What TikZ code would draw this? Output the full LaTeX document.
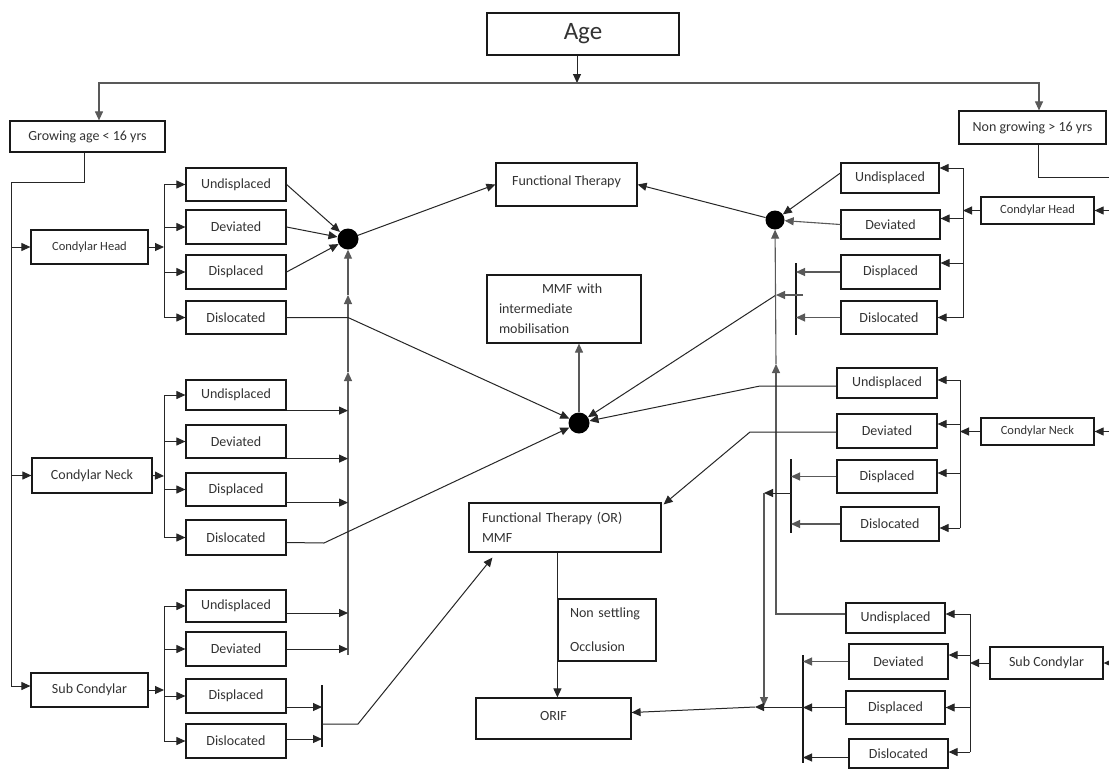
\documentclass[tikz,border=0pt]{standalone}
\usepackage{fontspec}
\setmainfont{Carlito}
\usetikzlibrary{arrows.meta,calc}
\begin{document}
\begin{tikzpicture}[x=1pt,y=-1pt,
  bx/.style={draw=black!90, line width=1.2pt, inner sep=0pt, text=black!80, font=\fontsize{14}{17}\selectfont},
  sm/.style={font=\fontsize{12.5}{15}\selectfont},
  ln/.style={draw=black!85, line width=1pt},
  gl/.style={draw=black!65, line width=1.1pt},
  ar/.style={ln, -{Triangle[length=9pt,width=8pt]}},
  gar/.style={gl, -{Triangle[length=9pt,width=8pt]}},
  bar/.style={draw=black!90, line width=1.5pt},
  dot/.style={circle, fill=black, inner sep=0pt, minimum size=21pt},
]
\path[fill=white,use as bounding box] (0,0) rectangle (1109,769);

% ---------- boxes ----------
\node[bx,minimum width=192pt,minimum height=42pt,font=\fontsize{25}{30}\selectfont] (age) at (583,34) {Age};
\node[bx,minimum width=155pt,minimum height=31pt] (grow) at (87.5,136.5) {Growing age < 16 yrs};
\node[bx,minimum width=147pt,minimum height=33pt] (nongrow) at (1032.5,127.5) {Non growing > 16 yrs};

\node[bx,sm,minimum width=117pt,minimum height=34pt] (lhead) at (89.5,247) {Condylar Head};
\node[bx,minimum width=120pt,minimum height=35pt] (lneck) at (92,475.5) {Condylar Neck};
\node[bx,minimum width=117pt,minimum height=34pt] (lsub) at (89.5,690) {Sub Condylar};

\node[bx,minimum width=100pt,minimum height=33pt] (lhU) at (236,184.5) {Undisplaced};
\node[bx,minimum width=100pt,minimum height=34pt] (lhDv) at (236,227) {Deviated};
\node[bx,minimum width=100pt,minimum height=34pt] (lhDp) at (236,272) {Displaced};
\node[bx,minimum width=100pt,minimum height=33pt] (lhDl) at (236,317.5) {Dislocated};
\node[bx,minimum width=100pt,minimum height=30pt] (lnU) at (236,395) {Undisplaced};
\node[bx,minimum width=100pt,minimum height=33pt] (lnDv) at (236,441.5) {Deviated};
\node[bx,minimum width=100pt,minimum height=33pt] (lnDp) at (236,489.5) {Displaced};
\node[bx,minimum width=100pt,minimum height=35pt] (lnDl) at (236,537.5) {Dislocated};
\node[bx,minimum width=100pt,minimum height=32pt] (lsU) at (236,606) {Undisplaced};
\node[bx,minimum width=100pt,minimum height=34pt] (lsDv) at (236,649) {Deviated};
\node[bx,minimum width=100pt,minimum height=34pt] (lsDp) at (236,696) {Displaced};
\node[bx,minimum width=100pt,minimum height=34pt] (lsDl) at (236,741) {Dislocated};

\node[bx,minimum width=141pt,minimum height=43pt,text depth=8pt] (ft) at (566.5,184.5) {Functional Therapy};
\node[bx,align=left,text width=130pt,inner xsep=12pt,minimum height=68pt,font=\fontsize{14}{20}\selectfont] (mmf) at (564,309) {\hspace*{43pt}MMF with\\intermediate\\mobilisation};
\node[bx,align=left,text width=166pt,inner xsep=13pt,minimum height=49pt,font=\fontsize{14}{20}\selectfont] (ftor) at (565,527.5) {Functional Therapy (OR)\\MMF};
\node[bx,align=left,text width=74pt,inner xsep=12pt,minimum height=62pt] (ns) at (607,630) {Non settling\\[17pt]Occlusion};
\node[bx,minimum width=155pt,minimum height=41pt,text depth=6pt] (orif) at (553.5,718.5) {ORIF};

\node[dot] (dotL) at (348,239) {};
\node[dot] (dotC) at (579,423) {};
\node[dot,minimum size=19pt] (dotR) at (775,220) {};

\node[bx,sm,minimum width=113pt,minimum height=27pt] (rhead) at (1037.5,210.5) {Condylar Head};
\node[bx,sm,minimum width=113pt,minimum height=27pt] (rneck) at (1037.5,431.5) {Condylar Neck};
\node[bx,minimum width=113pt,minimum height=32pt] (rsub) at (1046.5,663) {Sub Condylar};

\node[bx,minimum width=98pt,minimum height=30pt] (rhU) at (890,178) {Undisplaced};
\node[bx,minimum width=99pt,minimum height=29pt] (rhDv) at (890.5,224.5) {Deviated};
\node[bx,minimum width=99pt,minimum height=34pt] (rhDp) at (890.5,272) {Displaced};
\node[bx,minimum width=96pt,minimum height=33pt] (rhDl) at (889,317.5) {Dislocated};
\node[bx,minimum width=100pt,minimum height=30pt] (rnU) at (887,383) {Undisplaced};
\node[bx,minimum width=100pt,minimum height=34pt] (rnDv) at (887,431) {Deviated};
\node[bx,minimum width=100pt,minimum height=33pt] (rnDp) at (887,476.5) {Displaced};
\node[bx,minimum width=98pt,minimum height=34pt] (rnDl) at (890,524) {Dislocated};
\node[bx,minimum width=99pt,minimum height=30pt] (rsU) at (895.5,618) {Undisplaced};
\node[bx,minimum width=99pt,minimum height=35pt] (rsDv) at (898.5,661.5) {Deviated};
\node[bx,minimum width=99pt,minimum height=33pt] (rsDp) at (895.5,707.5) {Displaced};
\node[bx,minimum width=99pt,minimum height=29pt] (rsDl) at (898.5,753.5) {Dislocated};

% ---------- top ----------
\coordinate (topJ) at (577,83);
\coordinate (topL) at (99,83);
\coordinate (topR) at (1039,83);
\draw[ar] (age.south -| topJ) -- (topJ);
\draw[gar] (topJ) -- (topL) -- (topL |- grow.north);
\draw[gar] (topJ) -- (topR) -- (topR |- nongrow.north);

% ---------- left trunk ----------
\coordinate (gA) at (84,182);
\coordinate (gB) at (11,182);
\coordinate (gC) at (11,686);
\draw[ln] (grow.south -| gA) -- (gA) -- (gB) -- (gC);
\draw[ar] (gB |- lhead.west) -- (lhead.west);
\draw[ar] (gB |- lneck.west) -- (lneck.west);
\draw[ar] (gC) -- (gC -| lsub.west);

\coordinate (lhV) at (164,247);
\draw[ar] (lhead.east) -- (lhV);
\draw[ln] (lhV |- lhU.west) -- (lhV |- lhDl.west);
\foreach \bb in {lhU,lhDv,lhDp,lhDl} \draw[ar] (lhV |- \bb.west) -- (\bb.west);
\coordinate (lnV) at (164,476);
\draw[ar] (lneck.east) -- (lnV);
\draw[ln] (lnV |- lnU.west) -- (lnV |- lnDl.west);
\foreach \bb in {lnU,lnDv,lnDp,lnDl} \draw[ar] (lnV |- \bb.west) -- (\bb.west);
\coordinate (lsV) at (164,690);
\draw[ar] (lsub.east) -- (lsV);
\draw[ln] (lsV |- lsU.west) -- (lsV |- lsDl.west);
\foreach \bb in {lsU,lsDv,lsDp,lsDl} \draw[ar] (lsV |- \bb.west) -- (\bb.west);

% left dot
\draw[ar] (lhU.east) -- (dotL);
\draw[ar] (lhDv.east) -- (dotL);
\draw[ar] (lhDp.east) -- (dotL);

\coordinate (lvB) at (348,655);
\coordinate (lv1) at (348,372);
\coordinate (lv2) at (348,295);
\draw[gar] (lvB) -- (lv1);
\draw[gar] (lv1) -- (lv2);
\draw[gar] (lv2) -- (dotL);
\draw[ar] (lnU.south east) -- (lnU.south east -| lvB);
\draw[ar] (lnDv.south east) -- (lnDv.south east -| lvB);
\coordinate (lnDpE) at ([yshift=4pt]lnDp.south east);
\draw[ar] (lnDpE) -- (lnDpE -| lvB);
\coordinate (lsUE) at ([yshift=-7pt]lsU.east);
\draw[ar] (lsUE) -- (lsUE -| lvB);
\draw[ar] (lsDv.east) -- (lsDv.east -| lvB);

\draw[ar] (lhDl.east) -- (lhDl.east -| lvB) -- (dotC);
\coordinate (lnDlE) at ([yshift=-5pt]lnDl.east);
\coordinate (ndK) at (324,543);
\draw[ar] (lnDlE) -- (ndK) -- (dotC);

\coordinate (sbT) at (322,685);
\coordinate (sbB) at (322,747);
\draw[bar] (sbT) -- (sbB);
\coordinate (lsDpE) at ([yshift=-11pt]lsDp.east);
\draw[ar] (lsDpE) -- (lsDpE -| sbT);
\coordinate (lsDlE) at ([yshift=2pt]lsDl.east);
\draw[ar] (lsDlE) -- (lsDlE -| sbT);
\coordinate (sbO) at (322,724);
\coordinate (sbK) at (358,724);
\coordinate (ftorIn) at ($(ftor.south west)+(24,5)$);
\draw[ar] (sbO) -- (sbK) -- (ftorIn);

% ---------- centre ----------
\draw[ar] (dotL) -- (ft.west);
\draw[ar] (dotR) -- (ft.east);
\draw[gar] (dotC) -- (dotC |- mmf.south);
\draw[ar] (ftor.south -| ns.west) -- (orif.north -| ns.west);

% ---------- right ----------
\coordinate (ngA) at (1038,177);
\coordinate (ngB) at (1109,177);
\draw[ln] (nongrow.south -| ngA) -- (ngA) -- (ngB);
\coordinate (rIn1) at (1109,210.5);
\draw[ar] (rIn1) -- (rhead.east);
\coordinate (rIn2) at (1109,431.5);
\draw[ar] (rIn2) -- (rneck.east);
\coordinate (rIn3) at (1109,663);
\draw[ar] (rIn3) -- (rsub.east);

\coordinate (rhV) at (963,210.5);
\draw[ar] (rhead.west) -- (rhV);
\coordinate (rhUE) at ([yshift=10pt]rhU.east);
\coordinate (rhDvE) at ([yshift=6pt]rhDv.east);
\coordinate (rhDpE) at ([yshift=9pt]rhDp.east);
\coordinate (rhDlE) at (rhDl.east);
\draw[ln] (rhV |- rhUE) -- (rhV |- rhDlE);
\foreach \bb in {rhUE,rhDvE,rhDpE,rhDlE} \draw[ar] (rhV |- \bb) -- (\bb);

\coordinate (rhUW) at ([yshift=5pt]rhU.west);
\draw[ar] (rhUW) -- (dotR);
\draw[gar] (rhDv.west) -- (dotR);

\coordinate (rbT) at (796,263);
\coordinate (rbB) at (796,335);
\draw[bar] (rbT) -- (rbB);
\draw[gar] (rhDp.west) -- (rhDp.west -| rbT);
\draw[gar] (rhDl.west) -- (rhDl.west -| rbT);
\coordinate (rbO) at (803,295);
\coordinate (rbK) at (776,295);
\draw[gar] (rbO) -- (rbK);
\draw[ar] (rbK) -- (dotC);

\coordinate (rsUW) at ([yshift=4pt]rsU.west);
\coordinate (rvB) at (776,614);
\coordinate (rv1) at (776,364);
\draw[gar] (rsUW) -- (rvB) -- (rv1);
\draw[gar] (rv1) -- (dotR);

\coordinate (rnV) at (960,431.5);
\draw[ar] (rneck.west) -- (rnV);
\coordinate (rnUE) at ([yshift=3pt]rnU.east);
\coordinate (rnDvE) at ([yshift=7pt]rnDv.east);
\coordinate (rnDpE) at ([yshift=3.5pt]rnDp.east);
\coordinate (rnDlE) at ([yshift=-4pt]rnDl.east);
\draw[ln] (rnV |- rnUE) -- (rnV |- rnDlE);
\foreach \bb in {rnUE,rnDvE,rnDpE,rnDlE} \draw[ar] (rnV |- \bb) -- (\bb);

\coordinate (rnUW) at ([yshift=-3pt]rnU.west);
\coordinate (rnUK) at (760,386);
\draw[ar] (rnUW) -- (rnUK) -- (dotC);
\coordinate (rnDvW) at ([yshift=-1pt]rnDv.west);
\coordinate (rnDvK) at (750,432);
\coordinate (ftorNE) at ($(ftor.north east)+(2,2)$);
\draw[ar] (rnDvW) -- (rnDvK) -- (ftorNE);

\coordinate (nbT) at (791,459);
\coordinate (nbB) at (791,533);
\draw[bar] (nbT) -- (nbB);
\draw[gar] (rnDp.west) -- (rnDp.west -| nbT);
\draw[gar] (rnDl.west) -- (rnDl.west -| nbT);
\coordinate (nbO) at (791,493);
\coordinate (nbK) at (764,493);
\coordinate (nbD) at (764,706);
\draw[ar] (nbO) -- (nbK);
\draw[gar] (nbK) -- (nbD);

\coordinate (rsV) at (970,663);
\draw[ar] (rsub.west) -- (rsV);
\coordinate (rsUE) at ([yshift=4pt]rsU.east);
\coordinate (rsDvE) at ([yshift=6.5pt]rsDv.east);
\coordinate (rsDpE) at (rsDp.east);
\coordinate (rsDlE) at ([yshift=1.5pt]rsDl.east);
\draw[ln] (rsV |- rsUE) -- (rsV |- rsDlE);
\foreach \bb in {rsUE,rsDvE,rsDpE,rsDlE} \draw[ar] (rsV |- \bb) -- (\bb);

\coordinate (sbT2) at (803,655);
\coordinate (sbB2) at (803,763);
\draw[bar] (sbT2) -- (sbB2);
\draw[gar] (rsDv.west) -- (rsDv.west -| sbT2);
\draw[ar] (rsDp.west) -- (rsDp.west -| sbT2);
\coordinate (rsDlW) at ([yshift=-4pt]rsDl.west);
\draw[ar] (rsDlW) -- (rsDlW -| sbT2);
\coordinate (sbO2) at (803,707);
\coordinate (sbK2) at (755,707);
\draw[ar] (sbO2) -- (sbK2);
\coordinate (orifE) at ([yshift=6pt]orif.east);
\draw[ar] (sbK2) -- (orifE);
\end{tikzpicture}
\end{document}
